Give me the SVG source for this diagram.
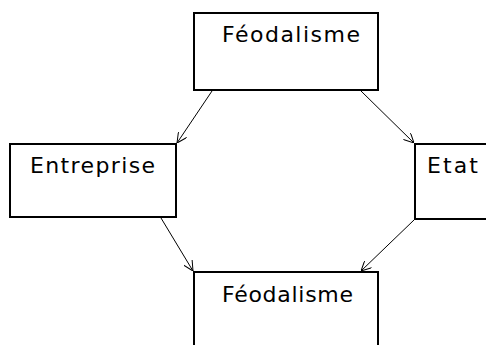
<svg xmlns="http://www.w3.org/2000/svg" width="486" height="345" viewBox="0 0 486 345">
  <defs>
    <marker id="arrow" viewBox="0 0 10 10" refX="10" refY="5" markerWidth="10" markerHeight="10" markerUnits="userSpaceOnUse" orient="auto">
      <path d="M0,0 L10,5 L0,10" fill="none" stroke="#000" stroke-width="1"/>
    </marker>
  </defs>
  <style>
    .box { fill: #fff; stroke: #000; stroke-width: 2; }
    .label { font-family: "DejaVu Sans", "Liberation Sans", sans-serif; font-size: 22px; fill: #000; }
    .link { stroke: #000; stroke-width: 1; fill: none; marker-end: url(#arrow); }
  </style>
  <rect width="486" height="345" fill="#fff"/>

  <g id="feodalisme-top">
    <rect class="box" x="194" y="13" width="184" height="77"/>
    <text class="label" x="222" y="42" textLength="138" lengthAdjust="spacing">Féodalisme</text>
  </g>

  <g id="entreprise">
    <rect class="box" x="10" y="144" width="166" height="73"/>
    <text class="label" x="30" y="173" textLength="125" lengthAdjust="spacing">Entreprise</text>
  </g>

  <g id="etat">
    <rect class="box" x="415" y="144" width="80" height="75"/>
    <text class="label" x="427" y="173" textLength="51" lengthAdjust="spacing">Etat</text>
  </g>

  <g id="feodalisme-bottom">
    <rect class="box" x="194" y="272" width="184" height="80"/>
    <text class="label" x="222" y="302" textLength="131" lengthAdjust="spacing">Féodalisme</text>
  </g>

  <g id="connectors">
    <line class="link" x1="212" y1="91" x2="177" y2="143"/>
    <line class="link" x1="361" y1="91" x2="414" y2="143"/>
    <line class="link" x1="161" y1="218" x2="193" y2="271"/>
    <line class="link" x1="414" y1="220" x2="361" y2="271"/>
  </g>
</svg>
